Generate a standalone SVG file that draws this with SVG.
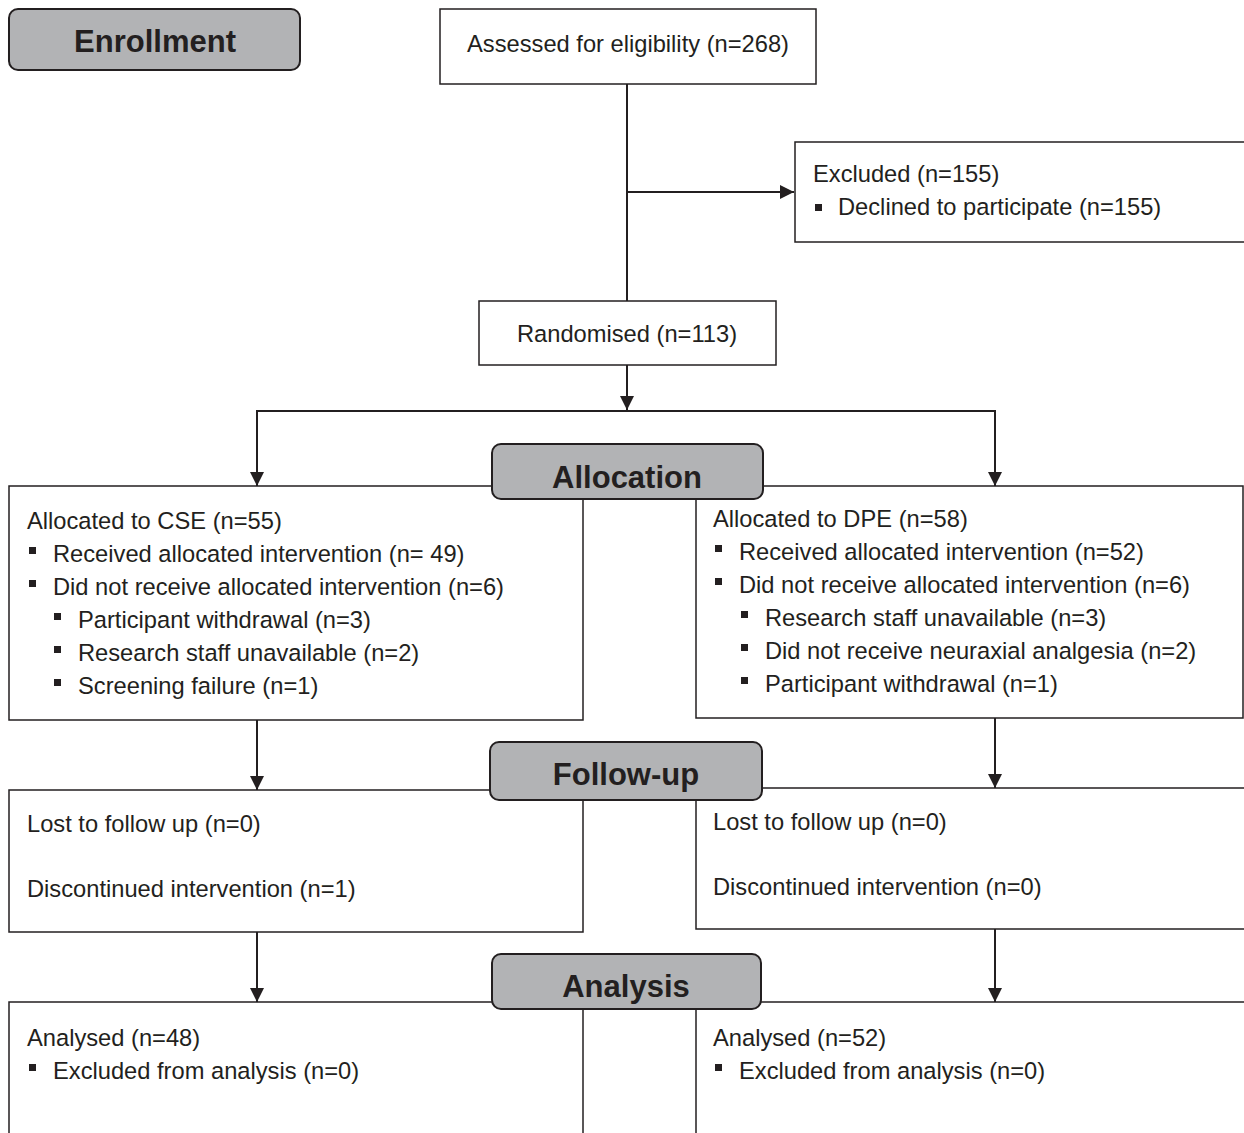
<svg xmlns="http://www.w3.org/2000/svg" width="1244" height="1133" viewBox="0 0 1244 1133">
<defs>
<style>
.box{fill:#fff;stroke:#231f20;stroke-width:1.5}
.hdr{fill:#b2b3b5;stroke:#231f20;stroke-width:2}
.ln{fill:none;stroke:#231f20;stroke-width:2}
.t{font-family:"Liberation Sans",Arial,sans-serif;font-size:23.7px;fill:#231f20}
.h{font-family:"Liberation Sans",Arial,sans-serif;font-size:31px;font-weight:bold;fill:#231f20;text-anchor:middle}
.b{fill:#231f20}
</style>
<marker id="arr" viewBox="0 0 14 14" refX="14" refY="7" markerWidth="14" markerHeight="14" markerUnits="userSpaceOnUse" orient="auto">
<path d="M0,0 L14,7 L0,14 z" fill="#231f20"/>
</marker>
</defs>
<rect width="1244" height="1133" fill="#fff"/>

<g id="connectors">
<line class="ln" x1="627" y1="84" x2="627" y2="301"/>
<line class="ln" x1="627" y1="192" x2="794" y2="192" marker-end="url(#arr)"/>
<line class="ln" x1="627" y1="365" x2="627" y2="410" marker-end="url(#arr)"/>
<polyline class="ln" points="257,486 257,411 995,411 995,486"/>
<line class="ln" x1="257" y1="411" x2="257" y2="486" marker-end="url(#arr)"/>
<line class="ln" x1="995" y1="411" x2="995" y2="486" marker-end="url(#arr)"/>
<line class="ln" x1="257" y1="720" x2="257" y2="790" marker-end="url(#arr)"/>
<line class="ln" x1="995" y1="718" x2="995" y2="788" marker-end="url(#arr)"/>
<line class="ln" x1="257" y1="932" x2="257" y2="1002" marker-end="url(#arr)"/>
<line class="ln" x1="995" y1="929" x2="995" y2="1002" marker-end="url(#arr)"/>
</g>

<g id="enrollment">
<rect class="hdr" x="9" y="9" width="291" height="61" rx="9"/>
<text class="h" x="155" y="52">Enrollment</text>
</g>

<g id="assessed">
<rect class="box" x="440" y="9" width="376" height="75"/>
<text class="t" x="628" y="52" text-anchor="middle">Assessed for eligibility (n=268)</text>
</g>

<g id="excluded">
<rect class="box" x="795" y="142" width="460" height="100"/>
<text class="t" x="813" y="182">Excluded (n=155)</text>
<rect class="b" x="815" y="204" width="7" height="7"/>
<text class="t" x="838" y="215">Declined to participate (n=155)</text>
</g>

<g id="randomised">
<rect class="box" x="479" y="301" width="297" height="64"/>
<text class="t" x="627" y="342" text-anchor="middle">Randomised (n=113)</text>
</g>

<g id="alloc-cse">
<rect class="box" x="9" y="486" width="574" height="234"/>
<text class="t" x="27" y="529">Allocated to CSE (n=55)</text>
<rect class="b" x="29" y="547" width="7" height="7"/>
<text class="t" x="53" y="562">Received allocated intervention (n= 49)</text>
<rect class="b" x="29" y="580" width="7" height="7"/>
<text class="t" x="53" y="595">Did not receive allocated intervention (n=6)</text>
<rect class="b" x="54" y="613" width="7" height="7"/>
<text class="t" x="78" y="628">Participant withdrawal (n=3)</text>
<rect class="b" x="54" y="646" width="7" height="7"/>
<text class="t" x="78" y="661">Research staff unavailable (n=2)</text>
<rect class="b" x="54" y="679" width="7" height="7"/>
<text class="t" x="78" y="694">Screening failure (n=1)</text>
</g>

<g id="alloc-dpe">
<rect class="box" x="696" y="486" width="547" height="232"/>
<text class="t" x="713" y="527">Allocated to DPE (n=58)</text>
<rect class="b" x="715" y="545" width="7" height="7"/>
<text class="t" x="739" y="560">Received allocated intervention (n=52)</text>
<rect class="b" x="715" y="578" width="7" height="7"/>
<text class="t" x="739" y="593">Did not receive allocated intervention (n=6)</text>
<rect class="b" x="741" y="611" width="7" height="7"/>
<text class="t" x="765" y="626">Research staff unavailable (n=3)</text>
<rect class="b" x="741" y="644" width="7" height="7"/>
<text class="t" x="765" y="659">Did not receive neuraxial analgesia (n=2)</text>
<rect class="b" x="741" y="677" width="7" height="7"/>
<text class="t" x="765" y="692">Participant withdrawal (n=1)</text>
</g>

<g id="allocation">
<rect class="hdr" x="492" y="444" width="271" height="55" rx="9"/>
<text class="h" x="627" y="488">Allocation</text>
</g>

<g id="follow-cse">
<rect class="box" x="9" y="790" width="574" height="142"/>
<text class="t" x="27" y="832">Lost to follow up (n=0)</text>
<text class="t" x="27" y="897">Discontinued intervention (n=1)</text>
</g>

<g id="follow-dpe">
<rect class="box" x="696" y="788" width="560" height="141"/>
<text class="t" x="713" y="830">Lost to follow up (n=0)</text>
<text class="t" x="713" y="895">Discontinued intervention (n=0)</text>
</g>

<g id="followup">
<rect class="hdr" x="490" y="742" width="272" height="58" rx="9"/>
<text class="h" x="626" y="785">Follow-up</text>
</g>

<g id="analysis-cse">
<rect class="box" x="9" y="1002" width="574" height="140"/>
<text class="t" x="27" y="1046">Analysed (n=48)</text>
<rect class="b" x="29" y="1064" width="7" height="7"/>
<text class="t" x="53" y="1079">Excluded from analysis (n=0)</text>
</g>

<g id="analysis-dpe">
<rect class="box" x="696" y="1002" width="560" height="140"/>
<text class="t" x="713" y="1046">Analysed (n=52)</text>
<rect class="b" x="715" y="1064" width="7" height="7"/>
<text class="t" x="739" y="1079">Excluded from analysis (n=0)</text>
</g>

<g id="analysis">
<rect class="hdr" x="492" y="954" width="269" height="55" rx="9"/>
<text class="h" x="626" y="997">Analysis</text>
</g>
</svg>
